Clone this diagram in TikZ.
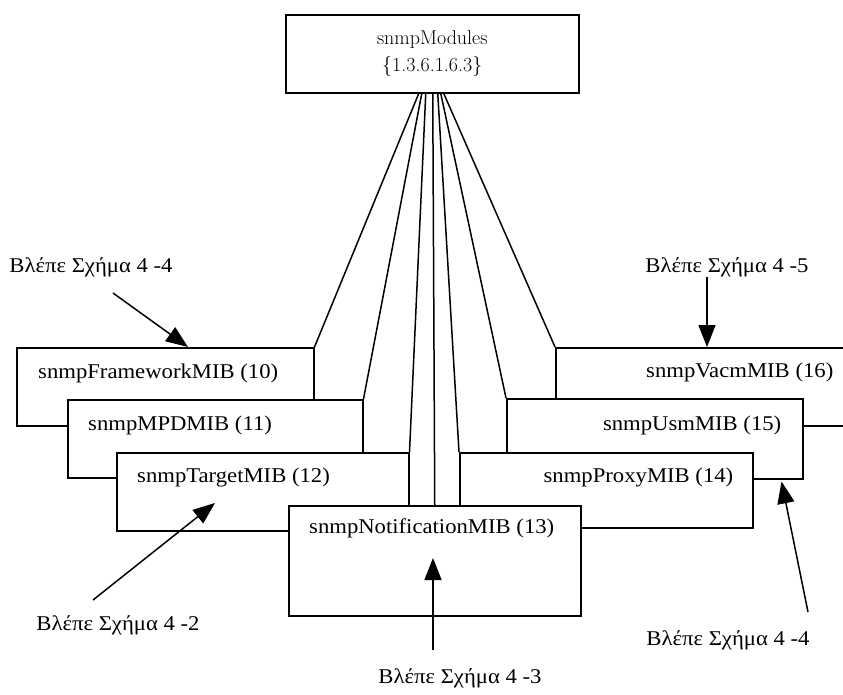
\documentclass[tikz,border=0pt]{standalone}
\usepackage{fontspec}
\newfontfamily\timesfont[FakeStretch=1.08]{Liberation Serif}
\usetikzlibrary{arrows.meta,calc}
\begin{document}
\begin{tikzpicture}[x=1pt,y=-1pt,
  mib/.style={draw,fill=white,line width=1.5pt,anchor=north west,inner sep=0pt},
  mibtext/.style={font=\timesfont\fontsize{21}{25}\selectfont,inner sep=0pt},
  fan/.style={line width=1.5pt},
  ref/.style={line width=1.5pt,-{Triangle[length=22pt,width=17pt]}},
  reftext/.style={font=\timesfont\fontsize{21}{25}\selectfont,inner sep=0pt}]
\useasboundingbox (0,0) rectangle (843,694);
\clip (0,0) rectangle (843,694);

% root module
\node[mib,minimum width=293pt,minimum height=78pt,align=center,
      font=\fontsize{20}{27}\selectfont] (top) at (285,14)
      {snmpModules\\\{1.3.6.1.6.3\}};

% left stack
\node[mib,minimum width=297pt,minimum height=78pt] (fw) at (16,347) {};
\node[mibtext,anchor=west] (fwt) at ($(fw.north west)+(22,26)$) {snmpFrameworkMIB (10)};
\node[mib,minimum width=295pt,minimum height=78pt] (mpd) at (67,399) {};
\node[mibtext,anchor=west] (mpdt) at ($(mpd.north west)+(21,26)$) {snmpMPDMIB (11)};
\node[mib,minimum width=292pt,minimum height=78pt] (tgt) at (116,452) {};
\node[mibtext,anchor=west] (tgtt) at ($(tgt.north west)+(21,25)$) {snmpTargetMIB (12)};

% right stack
\node[mib,minimum width=297pt,minimum height=78pt] (vacm) at (555,347) {};
\node[mibtext,anchor=east] (vacmt) at ($(vacm.north east)+(-20,25)$) {snmpVacmMIB (16)};
\node[mib,minimum width=296pt,minimum height=80pt] (usm) at (506,398) {};
\node[mibtext,anchor=east] (usmt) at ($(usm.north east)+(-22,27)$) {snmpUsmMIB (15)};
\node[mib,minimum width=293pt,minimum height=75pt] (prx) at (459,452) {};
\node[mibtext,anchor=east] (prxt) at ($(prx.north east)+(-20,25)$) {snmpProxyMIB (14)};

% front module
\node[mib,minimum width=292pt,minimum height=110pt] (ntf) at (288,505) {};
\node[mibtext,anchor=west] (ntft) at ($(ntf.north west)+(21,23)$) {snmpNotificationMIB (13)};

% branches from the root
\coordinate (b1) at ($(top.south)+(-13.5,0)$);
\coordinate (b2) at ($(top.south)+(-10.5,0)$);
\coordinate (b3) at ($(top.south)+(-6.5,0)$);
\coordinate (b4) at ($(top.south)+(0.5,0)$);
\coordinate (b5) at ($(top.south)+(5.5,0)$);
\coordinate (b6) at ($(top.south)+(8.5,0)$);
\coordinate (b7) at ($(top.south)+(11.5,0)$);
\draw[fan] (b1) -- (fw.north east);
\draw[fan] (b2) -- (mpd.north east);
\draw[fan] (b3) -- (tgt.north east);
\draw[fan] (b4) -- (ntf.north);
\draw[fan] (b5) -- (prx.north west);
\draw[fan] (b6) -- (usm.north west);
\draw[fan] (b7) -- (vacm.north west);

% cross references
\node[reftext] (l1) at (91,267) {Βλέπε Σχήμα 4 -4};
\node[reftext] (l2) at (727,267) {Βλέπε Σχήμα 4 -5};
\node[reftext] (l3) at (118,625) {Βλέπε Σχήμα 4 -2};
\node[reftext] (l4) at (460,678) {Βλέπε Σχήμα 4 -3};
\node[reftext] (l5) at (728,640) {Βλέπε Σχήμα 4 -4};

\coordinate (r1) at (113,293);
\coordinate (r2) at (707,277);
\coordinate (r3) at (93,600);
\coordinate (r4) at (433,650);
\coordinate (r5) at (808,612);
\draw[ref] (r1) -- ($(fw.north west)+(172,0)$);
\draw[ref] (r2) -- (r2 |- vacm.north);
\draw[ref] (r3) -- ($(tgt.north west)+(99,51)$);
\draw[ref] (r4) -- ($(ntf.north west)+(145,53)$);
\draw[ref] (r5) -- ($(usm.south east)+(-22,2)$);
\end{tikzpicture}
\end{document}
